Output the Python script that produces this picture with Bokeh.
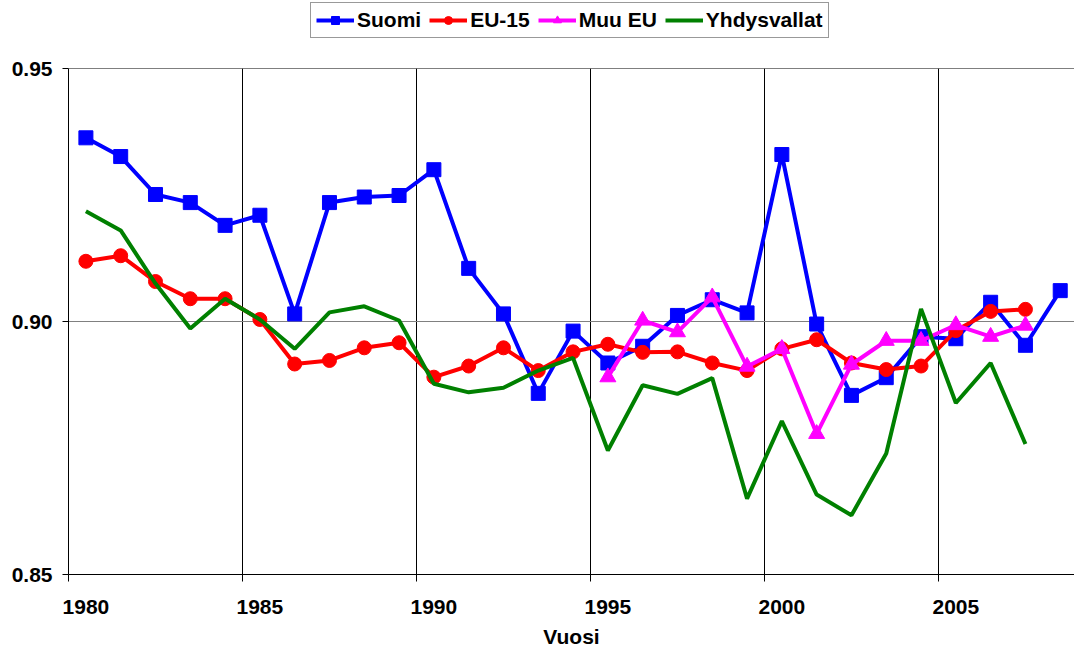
from bokeh.plotting import figure
from bokeh.layouts import column
from bokeh.models import (Range1d, FixedTicker, NumeralTickFormatter, Legend, LegendItem, Span)
from bokeh.embed import file_html
from bokeh.resources import INLINE

years = list(range(1980, 2009))
suomi = [0.9363, 0.9326, 0.9251, 0.9235, 0.9190, 0.9210, 0.9015, 0.9235, 0.9246, 0.9249,
         0.9300, 0.9105, 0.9015, 0.8858, 0.8981, 0.8918, 0.8951, 0.9012, 0.9043, 0.9017,
         0.9330, 0.8995, 0.8854, 0.8889, 0.8970, 0.8966, 0.9038, 0.8953, 0.9061]
eu15_years = list(range(1980, 2008))
eu15 = [0.9119, 0.9130, 0.9079, 0.9045, 0.9045, 0.9004, 0.8916, 0.8923, 0.8948, 0.8958,
        0.8890, 0.8912, 0.8948, 0.8903, 0.8940, 0.8955, 0.8939, 0.8940, 0.8918, 0.8903,
        0.8946, 0.8964, 0.8918, 0.8905, 0.8912, 0.8982, 0.9020, 0.9024]
muu_years = list(range(1995, 2008))
muu_eu = [0.8890, 0.9002, 0.8979, 0.9048, 0.8911, 0.8946, 0.8778, 0.8915, 0.8962, 0.8962,
          0.8993, 0.8970, 0.8992]
usa_years = list(range(1980, 2008))
usa = [0.9218, 0.9180, 0.9075, 0.8986, 0.9045, 0.9004, 0.8946, 0.9018, 0.9030, 0.9002,
       0.8877, 0.8860, 0.8869, 0.8903, 0.8928, 0.8745, 0.8874, 0.8857, 0.8888, 0.8650,
       0.8803, 0.8658, 0.8617, 0.8739, 0.9025, 0.8839, 0.8918, 0.8758]
series_names = ["Suomi", "EU-15", "Muu EU", "Yhdysvallat"]
label_years = [1980, 1985, 1990, 1995, 2000, 2005]
y_ticks = [0.85, 0.90, 0.95]

FONT = "Liberation Sans"
FS = "21px"
BLUE, RED, MAG, GREEN = "#0000FF", "#FF0000", "#FF00FF", "#008000"

def centers(ys):
    return [y + 0.5 for y in ys]

xs_s = centers(years)
xs_e = centers(eu15_years)
xs_m = centers(muu_years)
xs_u = centers(usa_years)


def draw_series(fig):
    r1 = [fig.line(xs_s, suomi, line_color=BLUE, line_width=4),
          fig.scatter(xs_s, suomi, marker="square", size=14, fill_color=BLUE, line_color=BLUE)]
    r2 = [fig.line(xs_e, eu15, line_color=RED, line_width=4),
          fig.scatter(xs_e, eu15, marker="circle", size=14, fill_color=RED, line_color=RED)]
    r3 = [fig.line(xs_m, muu_eu, line_color=MAG, line_width=4),
          fig.scatter(xs_m, muu_eu, marker="triangle", size=16, fill_color=MAG, line_color=MAG)]
    r4 = [fig.line(xs_u, usa, line_color=GREEN, line_width=4)]
    return [r1, r2, r3, r4]

# ---------- main chart ----------
p = figure(width=1074, height=613, output_backend="svg", toolbar_location=None,
           x_range=Range1d(1980, 2008.91), y_range=Range1d(0.85, 0.95),
           min_border_left=68, min_border_top=28, min_border_right=0, min_border_bottom=79)
p.outline_line_color = None
p.background_fill_color = "white"
p.border_fill_color = "white"

xa = p.xaxis[0]
xa.ticker = FixedTicker(ticks=centers(label_years), minor_ticks=label_years)
xa.major_label_overrides = {y + 0.5: str(y) for y in label_years}
xa.major_tick_line_color = None
xa.major_tick_out = 0
xa.major_tick_in = 0
xa.minor_tick_line_color = "black"
xa.minor_tick_out = 7
xa.minor_tick_in = 0
xa.axis_line_color = "black"
xa.major_label_standoff = 18
xa.major_label_text_font = FONT
xa.major_label_text_font_style = "bold"
xa.major_label_text_font_size = FS
xa.major_label_text_color = "black"
xa.axis_label = "Vuosi"
xa.axis_label_text_font = FONT
xa.axis_label_text_font_style = "bold"
xa.axis_label_text_font_size = FS
xa.axis_label_text_color = "black"
xa.axis_label_standoff = 8

ya = p.yaxis[0]
ya.ticker = FixedTicker(ticks=y_ticks)
ya.formatter = NumeralTickFormatter(format="0.00")
ya.major_tick_out = 6
ya.major_tick_in = 0
ya.minor_tick_line_color = None
ya.axis_line_color = "black"
ya.major_label_standoff = 10
ya.major_label_text_font = FONT
ya.major_label_text_font_style = "bold"
ya.major_label_text_font_size = FS
ya.major_label_text_color = "black"

p.xgrid.ticker = FixedTicker(ticks=label_years[1:])
p.xgrid.grid_line_color = "black"
p.xgrid.grid_line_width = 1
p.ygrid.ticker = FixedTicker(ticks=[0.90])
p.ygrid.grid_line_color = "#808080"
p.ygrid.grid_line_width = 1
p.add_layout(Span(location=0.95, dimension="width", line_color="black", line_width=1))

draw_series(p)

# ---------- legend strip (its series lie outside its own view) ----------
lg = figure(width=1074, height=40, output_backend="svg", toolbar_location=None,
            x_range=Range1d(0, 1), y_range=Range1d(0, 1), x_axis_type=None, y_axis_type=None,
            min_border=0)
lg.outline_line_color = None
lg.grid.visible = False
legend_renderers = draw_series(lg)

legend = Legend(items=[LegendItem(label=n, renderers=r) for n, r in zip(series_names, legend_renderers)],
                orientation="horizontal", location=(242, 2))
legend.label_text_font = FONT
legend.label_text_font_style = "bold"
legend.label_text_font_size = FS
legend.label_text_color = "black"
legend.glyph_width = 38
legend.label_standoff = 3
legend.spacing = 8
legend.padding = 5
legend.margin = 0
legend.border_line_color = "#333333"
legend.border_line_width = 1
lg.add_layout(legend, "center")

layout = column(lg, p, spacing=0)
open("out.html", "w").write(file_html(layout, INLINE))
